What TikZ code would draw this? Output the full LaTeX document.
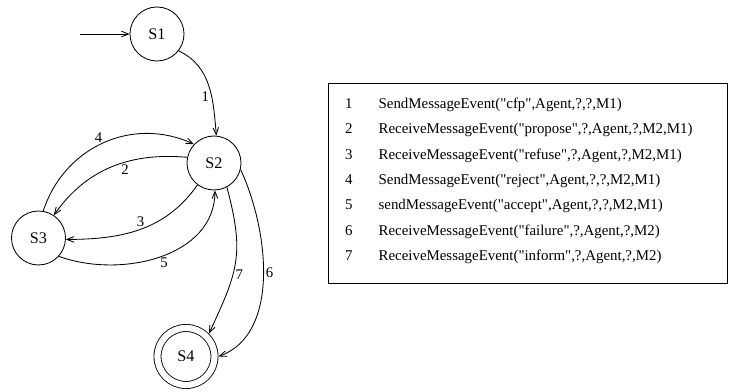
\documentclass[tikz,border=0pt]{standalone}
\usepackage{fontspec}
\setmainfont{Liberation Serif}[Ligatures=TeXOff]
\usepackage{tikz}
\usetikzlibrary{arrows.meta, positioning}

\begin{document}
\begin{tikzpicture}[
    x=0.025cm, y=0.025cm, line width=0.6pt,
    >={Straight Barb[length=5pt,width=4pt]},
    state/.style={draw, circle, minimum size=1.35cm, inner sep=0pt,
                  font=\fontsize{11.5}{13}\selectfont},
    final/.style={state, double, double distance=0.155cm, minimum size=1.425cm,
                  outer sep=0.1cm},
    trans/.style={->},
    lbl/.style={font=\fontsize{10.5}{12}\selectfont, inner sep=1.5pt},
    legend/.style={draw, minimum width=9.975cm, minimum height=5cm, inner sep=0pt},
    events/.style={inner sep=0pt, font=\fontsize{10.6}{13}\selectfont}
]
\useasboundingbox (0,0) rectangle (732,392);

% states
\node[state] (s1) at (157,358) {S1};
\node[state] (s2) at (214,229) {S2};
\node[state] (s3) at (38.5,154) {S3};
\node[final] (s4) at (186,35.5) {S4};
\coordinate (start) at (80,358);

% transitions
\draw[trans] (start) -- (s1);
\draw[trans] (s1.-38) to[out=-25, in=95] node[lbl, left, pos=0.62] {1} (s2.85);
\draw[trans] (s3.80) to[out=72, in=155, looseness=1.05] node[lbl, above, pos=0.47] {4} (s2.137);
\draw[trans] (s2.168) to[out=175, in=55] node[lbl, below, pos=0.4] {2} (s3.56);
\draw[trans] (s2.233) to[out=235, in=0] node[lbl, above, pos=0.5] {3} (s3.-3);
\draw[trans] (s3.-42) to[out=-20, in=-90] node[lbl, below, pos=0.52] {5} (s2.-88);
\draw[trans] (s2.-62) to[out=-75, in=65, looseness=1.2] node[lbl, right, pos=0.6] {7} (s4.45);
\draw[trans] (s2.-14) to[out=-65, in=20, looseness=0.9] node[lbl, right, pos=0.48] {6} (s4.east);

% event table
\node[legend] (legend) at (527.5,209) {};
\node[events, below right=0.19cm and 0.43cm of legend.north west] (list) {%
  \renewcommand{\arraystretch}{1.39}%
  \begin{tabular}{@{}l@{\hspace{18.5pt}}l@{}}
  1 & SendMessageEvent("cfp",Agent,?,?,M1)\\
  2 & ReceiveMessageEvent("propose",?,Agent,?,M2,M1)\\
  3 & ReceiveMessageEvent("refuse",?,Agent,?,M2,M1)\\
  4 & SendMessageEvent("reject",Agent,?,?,M2,M1)\\
  5 & sendMessageEvent("accept",Agent,?,?,M2,M1)\\
  6 & ReceiveMessageEvent("failure",?,Agent,?,M2)\\
  7 & ReceiveMessageEvent("inform",?,Agent,?,M2)
  \end{tabular}};
\end{tikzpicture}
\end{document}
